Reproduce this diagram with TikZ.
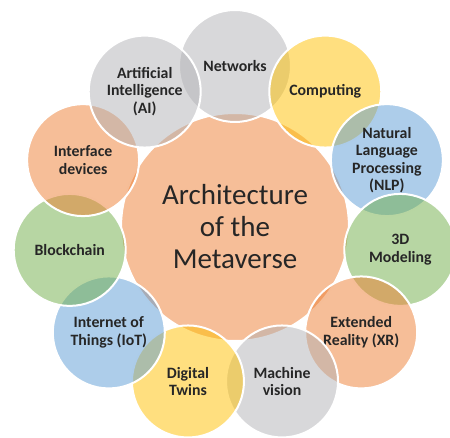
\documentclass[tikz,border=0pt]{standalone}
\usepackage{fontspec}
\setmainfont{Carlito}

\definecolor{ringgray}{HTML}{B2B2B6}
\definecolor{ringgold}{HTML}{FFC000}
\definecolor{ringblue}{HTML}{5B9BD5}
\definecolor{ringgreen}{HTML}{70AD47}
\definecolor{ringorange}{HTML}{ED7D31}

\tikzset{
  petal/.style={shape=circle, draw=white, line width=2pt, minimum size=112pt,
    inner sep=0pt, align=center, fill opacity=0.5, text opacity=1,
    text=black!85, font=\fontsize{15.8}{17.5}\selectfont\bfseries},
  hub/.style={petal, minimum size=228pt, font=\fontsize{29}{32}\selectfont}
}

\begin{document}
\begin{tikzpicture}[x=1pt, y=1pt]
\useasboundingbox (-235,-211) rectangle (215,227);

% centre
\node [hub, fill=ringorange] (arch) at (0,0) {Architecture\\of the\\Metaverse};

% ring, clockwise from the top
\node [petal, fill=ringgray] (net) at (90:167 and 161) {Networks};
\node [petal, fill=ringgold] (comp) at (57.27:167 and 161) {Computing};
\node [petal, fill=ringblue] (nlp) at (24.55:167 and 161) {Natural\\Language\\Processing\\(NLP)};
\node [petal, fill=ringgreen] (model) at (-8.18:167 and 161) {3D\\Modeling};
\node [petal, fill=ringorange] (xr) at (-40.91:167 and 161) {Extended\\Reality (XR)};
\node [petal, fill=ringgray] (vision) at (-73.64:167 and 161) {Machine\\vision};
\node [petal, fill=ringgold] (twins) at (-106.36:167 and 161) {Digital\\Twins};
\node [petal, fill=ringblue] (iot) at (-139.09:167 and 161) {Internet of\\Things (IoT)};
\node [petal, fill=ringgreen] (chain) at (-171.82:167 and 161) {Blockchain};
\node [petal, fill=ringorange] (iface) at (155.45:167 and 161) {Interface\\devices};
\node [petal, fill=ringgray] (ai) at (122.73:167 and 161) {Artificial\\Intelligence\\(AI)};
\end{tikzpicture}
\end{document}
